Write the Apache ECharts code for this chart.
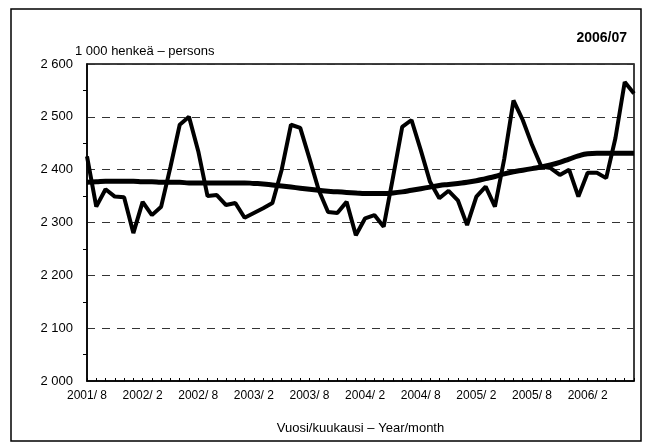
<!DOCTYPE html>
<html>
<head>
<meta charset="utf-8">
<script src="https://cdn.jsdelivr.net/npm/echarts@6/dist/echarts.min.js"></script>
<style>
  html, body { margin: 0; padding: 0; background: #fff; }
  #chart { width: 652px; height: 444px; }
</style>
</head>
<body>
<div id="chart"></div>
<script>
var fontName = "'Liberation Sans Narrow', 'Liberation Sans', Arial, sans-serif";
var unitText = '1 000 henkeä – persons';
var periodText = '2006/07';
var xName = 'Vuosi/kuukausi – Year/month';

var months = [
  '2001/ 8','2001/ 9','2001/10','2001/11','2001/12',
  '2002/ 1','2002/ 2','2002/ 3','2002/ 4','2002/ 5','2002/ 6','2002/ 7','2002/ 8','2002/ 9','2002/10','2002/11','2002/12',
  '2003/ 1','2003/ 2','2003/ 3','2003/ 4','2003/ 5','2003/ 6','2003/ 7','2003/ 8','2003/ 9','2003/10','2003/11','2003/12',
  '2004/ 1','2004/ 2','2004/ 3','2004/ 4','2004/ 5','2004/ 6','2004/ 7','2004/ 8','2004/ 9','2004/10','2004/11','2004/12',
  '2005/ 1','2005/ 2','2005/ 3','2005/ 4','2005/ 5','2005/ 6','2005/ 7','2005/ 8','2005/ 9','2005/10','2005/11','2005/12',
  '2006/ 1','2006/ 2','2006/ 3','2006/ 4','2006/ 5','2006/ 6','2006/ 7'
];

// kuukausittainen arvo
var monthly = [
  2425, 2330, 2363, 2349, 2348, 2280, 2339, 2314, 2330, 2405,
  2485, 2500, 2435, 2350, 2352, 2333, 2337, 2309, 2318, 2327,
  2337, 2400, 2485, 2479, 2421, 2361, 2320, 2318, 2339, 2276,
  2308, 2314, 2292, 2385, 2481, 2494, 2437, 2377, 2346, 2360,
  2342, 2295, 2349, 2368, 2330, 2420, 2531, 2494, 2447, 2406,
  2403, 2390, 2400, 2349, 2394, 2394, 2384, 2460, 2566, 2544
];

// trendi
var trend = [
  2376, 2377, 2378, 2378, 2378, 2378, 2377, 2377, 2376, 2376,
  2376, 2375, 2375, 2375, 2375, 2375, 2375, 2375, 2374, 2373,
  2371, 2369, 2367, 2365, 2363, 2361, 2359, 2358, 2357, 2356,
  2355, 2355, 2355, 2356, 2358, 2361, 2364, 2367, 2370, 2372,
  2374, 2376, 2379, 2383, 2387, 2392, 2396, 2399, 2402, 2405,
  2409, 2414, 2420, 2426, 2430, 2431, 2431, 2431, 2431, 2431
];

var yTicks = [2000, 2100, 2200, 2300, 2400, 2500, 2600];

function fmtThousands(v) {
  return String(v).replace(/\B(?=(\d{3})+$)/g, ' ');
}

var myChart = echarts.init(document.getElementById('chart'), null, { renderer: 'canvas' });

var option = {
  animation: false,
  backgroundColor: '#fff',
  textStyle: { fontFamily: fontName },
  title: [{
    text: unitText,
    left: 70,
    top: 40,
    textStyle: { fontSize: 13, fontWeight: 'normal', color: '#000', fontFamily: fontName }
  }, {
    text: periodText,
    right: 20,
    top: 26,
    textStyle: { fontSize: 14, fontWeight: 'bold', color: '#000', fontFamily: fontName }
  }],
  graphic: [{
    type: 'rect',
    shape: { x: 11, y: 9, width: 630, height: 432 },
    style: { fill: null, stroke: '#000', lineWidth: 1.5 },
    silent: true
  }],
  grid: {
    left: 87,
    right: 18,
    top: 64,
    bottom: 63,
    show: true,
    borderColor: '#000',
    borderWidth: 1.5,
    containLabel: false
  },
  xAxis: {
    type: 'category',
    data: months,
    boundaryGap: false,
    name: xName,
    nameLocation: 'middle',
    nameGap: 41,
    nameTextStyle: { fontSize: 13, color: '#000', fontFamily: fontName },
    axisLine: { lineStyle: { color: '#000', width: 1.5 } },
    axisTick: { show: true, inside: true, interval: 0, length: 3, lineStyle: { color: '#000' } },
    axisLabel: { interval: 5, color: '#000', fontSize: 12, margin: 9, fontFamily: fontName },
    splitLine: { show: false }
  },
  yAxis: {
    type: 'value',
    min: yTicks[0],
    max: yTicks[yTicks.length - 1],
    interval: 100,
    axisLine: { show: true, lineStyle: { color: '#000', width: 1.5 } },
    axisTick: { show: false },
    minorTick: { show: true, splitNumber: 2, length: 4, lineStyle: { color: '#000' } },
    axisLabel: {
      color: '#000', fontSize: 13, margin: 14, fontFamily: fontName,
      formatter: function (v) { return fmtThousands(v); }
    },
    splitLine: { show: true, lineStyle: { color: '#333', width: 1, type: [8, 7] } }
  },
  series: [{
    name: 'trend',
    type: 'line',
    data: trend,
    showSymbol: false,
    smooth: true,
    lineStyle: { color: '#000', width: 5 },
    z: 2
  }, {
    name: 'monthly',
    type: 'line',
    data: monthly,
    showSymbol: false,
    lineStyle: { color: '#000', width: 4 },
    z: 3
  }]
};

myChart.setOption(option);
</script>
</body>
</html>
